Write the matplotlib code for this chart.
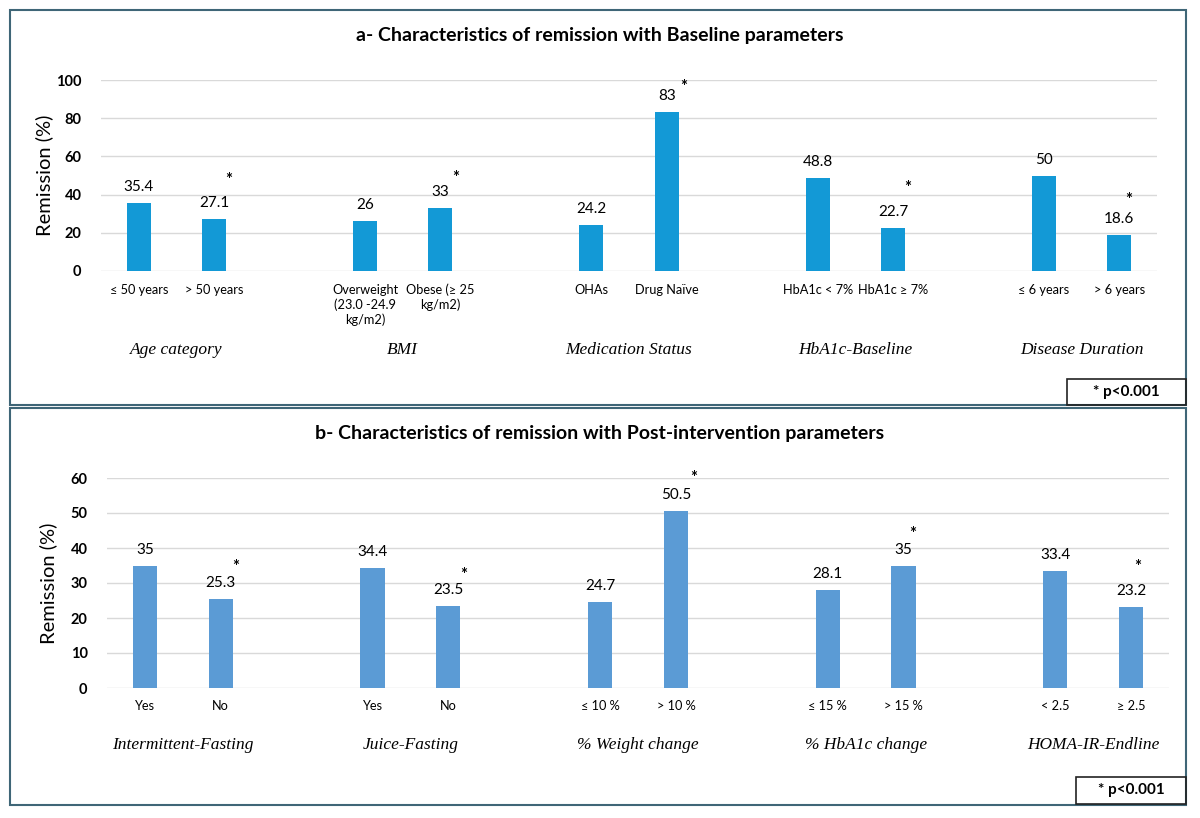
import matplotlib.pyplot as plt
from matplotlib.patches import Rectangle

# ---- data (panel a: baseline parameters) ----
groups_a = ['Age category', 'BMI', 'Medication Status', 'HbA1c-Baseline', 'Disease Duration']
labels_a = ['≤ 50 years', '> 50 years',
            'Overweight\n(23.0 -24.9\nkg/m2)', 'Obese (≥ 25\nkg/m2)',
            'OHAs', 'Drug Naïve',
            'HbA1c < 7%', 'HbA1c ≥ 7%',
            '≤ 6 years', '> 6 years']
values_a = [35.4, 27.1, 26, 33, 24.2, 83, 48.8, 22.7, 50, 18.6]
value_text_a = ['35.4', '27.1', '26', '33', '24.2', '83', '48.8', '22.7', '50', '18.6']
starred_a = [1, 3, 5, 7, 9]

# ---- data (panel b: post-intervention parameters) ----
groups_b = ['Intermittent-Fasting', 'Juice-Fasting', '% Weight change', '% HbA1c change', 'HOMA-IR-Endline']
labels_b = ['Yes', 'No', 'Yes', 'No', '≤ 10 %', '> 10 %', '≤ 15 %', '> 15 %', '< 2.5', '≥ 2.5']
values_b = [35, 25.3, 34.4, 23.5, 24.7, 50.5, 28.1, 35, 33.4, 23.2]
value_text_b = ['35', '25.3', '34.4', '23.5', '24.7', '50.5', '28.1', '35', '33.4', '23.2']
starred_b = [1, 3, 5, 7, 9]

# star offsets from bar top (pixels), just to place them like the original
star_off_a = [(15, 39), (15, 30), (17, 25), (15, 40), (9, 35)]
star_off_b = [(15, 32), (15, 31), (18, 33), (9, 32), (7, 40)]

SANS = ['Lato', 'DejaVu Sans']
SERIF = ['Liberation Serif', 'DejaVu Serif']
plt.rcParams['font.family'] = SANS

fig = plt.figure(figsize=(12, 8.18), dpi=100)
W, H = 1200, 818


def fig_rect(x0, y0, x1, y1, **kw):
    # pixel box (top-left origin) -> figure rectangle
    fig.patches.append(Rectangle((x0 / W, 1 - y1 / H), (x1 - x0) / W, (y1 - y0) / H,
                                 transform=fig.transFigure, fill=False, **kw))


def draw_panel(ax, values, vtext, labels, groups, starred, star_off, ymax, ystep, color,
               title, title_y, group_y, ylab_x):
    pos = [3 * (i // 2) + (i % 2) for i in range(len(values))]
    ax.bar(pos, values, width=0.32, color=color, zorder=3)
    ax.set_xlim(-0.5, 13.5)
    ax.set_ylim(0, ymax)
    ax.set_yticks(range(0, ymax + 1, ystep))
    ax.grid(axis='y', color='#d9d9d9', linewidth=1, zorder=0)
    for s in ax.spines.values():
        s.set_visible(False)
    ax.tick_params(length=0)
    ax.tick_params(axis='y', labelsize=10.5, pad=14)
    for t in ax.get_yticklabels():
        t.set_fontweight('bold')
    ax.set_xticks(pos)
    ax.set_xticklabels(labels, fontsize=9.2, linespacing=1.25, va='top')
    ax.tick_params(axis='x', pad=9)
    ax.set_ylabel('Remission (%)', fontsize=14.5)
    ax.yaxis.set_label_coords(ylab_x, 0.5)
    for p, v, t in zip(pos, values, vtext):
        ax.annotate(t, (p, v), xytext=(0, 16), textcoords='offset pixels',
                    ha='center', va='center', fontsize=11)
    for i, (dx, dy) in zip(starred, star_off):
        ax.annotate('*', (pos[i], values[i]), xytext=(dx, dy), textcoords='offset pixels',
                    ha='center', va='center', fontsize=12, fontweight='bold')
    for g, name in enumerate(groups):
        xc = 3 * g + 0.5
        xf = fig.transFigure.inverted().transform(ax.transData.transform((xc, 0)))[0]
        fig.text(xf, 1 - group_y / H, name, ha='center', va='center',
                 family=SERIF, style='italic', fontsize=12.5)
    fig.text(0.5, 1 - title_y / H, title, ha='center', va='center',
             fontsize=14, fontweight='bold')


ax_a = fig.add_axes([101 / W, 1 - 271 / H, (1157 - 101) / W, (271 - 80) / H])
draw_panel(ax_a, values_a, value_text_a, labels_a, groups_a, starred_a, star_off_a,
           100, 20, '#1399d6', 'a- Characteristics of remission with Baseline parameters', 35, 350,
           -0.045)

ax_b = fig.add_axes([107 / W, 1 - 688 / H, (1169 - 107) / W, (688 - 478) / H])
draw_panel(ax_b, values_b, value_text_b, labels_b, groups_b, starred_b, star_off_b,
           60, 10, '#5b9bd5', 'b- Characteristics of remission with Post-intervention parameters', 434, 745,
           -0.047)

# panel frames and p-value boxes
fig_rect(10, 10, 1186, 405, edgecolor='#3f6677', linewidth=1.5)
fig_rect(10, 408, 1186, 805, edgecolor='#3f6677', linewidth=1.5)
fig_rect(1067, 379, 1186, 405, edgecolor='#222222', linewidth=1.2)
fig_rect(1076, 777, 1186, 804, edgecolor='#222222', linewidth=1.2)
fig.text(1126 / W, 1 - 392 / H, '* p<0.001', ha='center', va='center', fontsize=11, fontweight='bold')
fig.text(1131 / W, 1 - 790 / H, '* p<0.001', ha='center', va='center', fontsize=11, fontweight='bold')

fig.savefig('out.png', dpi=100)
